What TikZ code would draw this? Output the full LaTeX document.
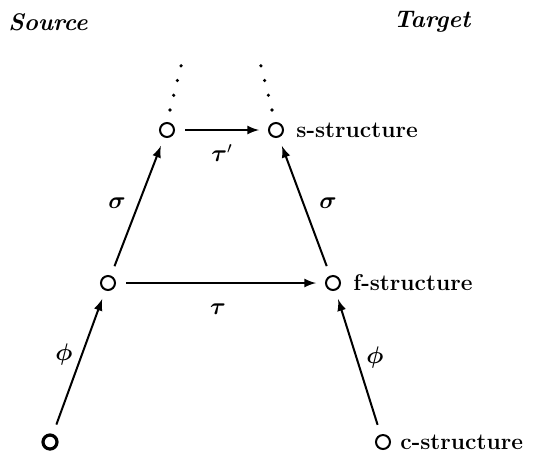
\documentclass[tikz,border=0pt]{standalone}
\usepackage{amsmath}
\begin{document}
\begin{tikzpicture}[x=0.5pt,y=-0.5pt,
  pt/.style={circle,draw,line width=1pt,inner sep=0pt,minimum size=7pt},
  ptbold/.style={pt,line width=1.6pt},
  arr/.style={-latex,line width=1pt,shorten <=5pt,shorten >=4.5pt},
  lab/.style={font=\fontsize{11.4}{13}\selectfont\bfseries,anchor=west,inner sep=0pt},
  gl/.style={font=\fontsize{12}{14}\selectfont,inner sep=0pt},
  hd/.style={font=\fontsize{12}{14}\selectfont\bfseries\itshape,inner sep=0pt},
  dots/.style={line width=1.8pt,line cap=round,dash pattern=on 0pt off 7.6pt}]
\useasboundingbox (0,0) rectangle (533,457);
\node[hd] (src) at (48,22) {Source};
\node[hd] (tgt) at (432,22) {Target};
\node[pt] (sl) at (167,130) {};
\node[pt] (sr) at (276,130) {};
\node[pt] (fl) at (108,283) {};
\node[pt] (fr) at (333,283) {};
\node[ptbold] (cl) at (50,442) {};
\node[pt] (cr) at (383,442) {};
\node[lab] (slab) at (296,130) {s-structure};
\node[lab] (flab) at (353,283) {f-structure};
\node[lab] (clab) at (400,442) {c-structure};
\coordinate (dl1) at (170,110);
\coordinate (dl2) at (182,62);
\coordinate (dr1) at (272,110);
\coordinate (dr2) at (260,62);
\draw[dots] (dl1) -- (dl2);
\draw[dots] (dr1) -- (dr2);
\draw[arr] (sl) -- (sr);
\draw[arr] (fl) -- (fr);
\draw[arr] (fl) -- (sl);
\draw[arr] (fr) -- (sr);
\draw[arr] (cl) -- (fl);
\draw[arr] (cr) -- (fr);
\node[gl] (tp) at (222,153) {$\boldsymbol{\tau}'$};
\node[gl] (t) at (218,309) {$\boldsymbol{\tau}$};
\node[gl] (s1) at (117,203) {$\boldsymbol{\sigma}$};
\node[gl] (s2) at (328,203) {$\boldsymbol{\sigma}$};
\node[gl] (p1) at (64,354) {$\boldsymbol{\phi}$};
\node[gl] (p2) at (375,357) {$\boldsymbol{\phi}$};
\end{tikzpicture}
\end{document}
